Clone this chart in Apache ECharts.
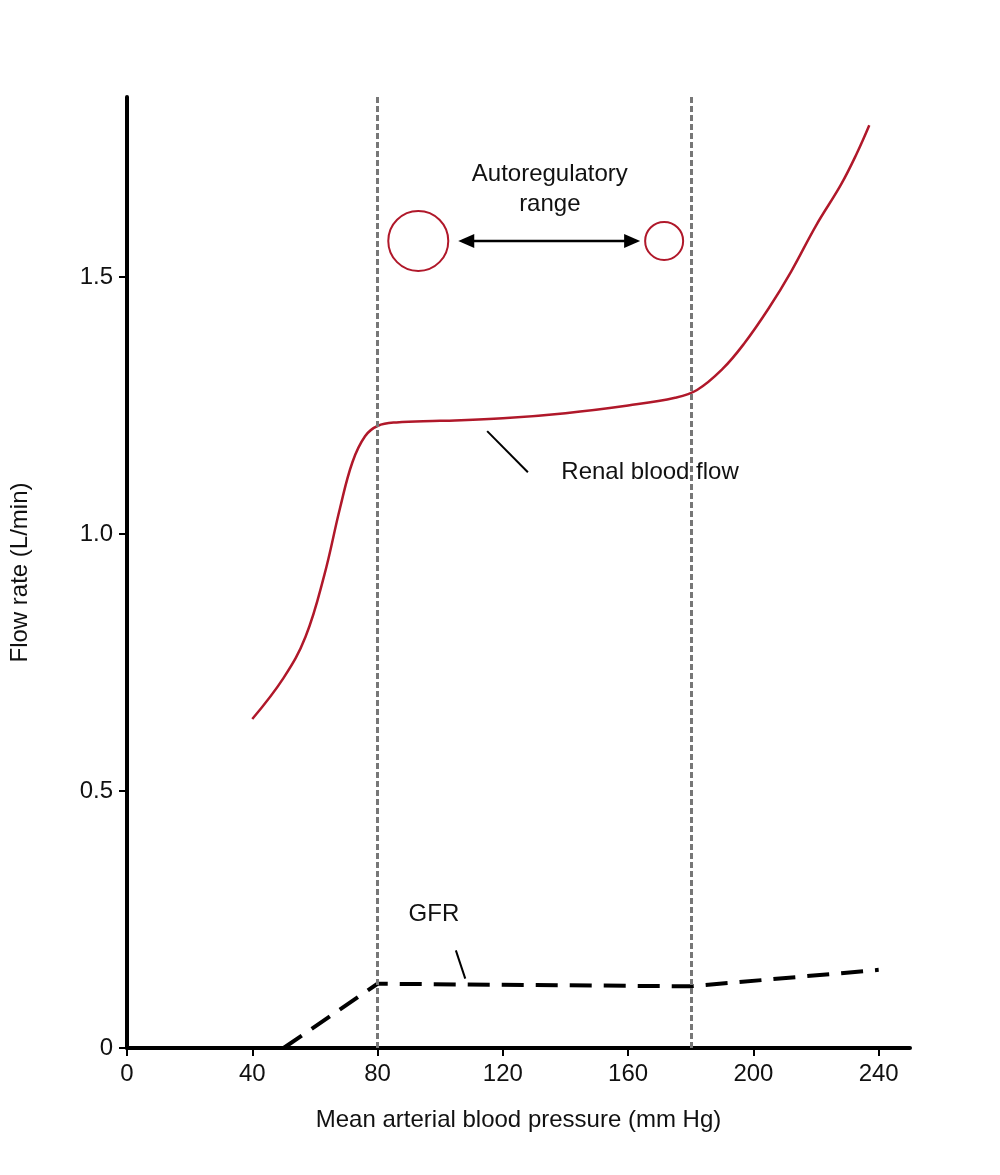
<!DOCTYPE html>
<html><head><meta charset="utf-8">
<script src="https://cdn.jsdelivr.net/npm/echarts@6/dist/echarts.min.js"></script>
<style>html,body{margin:0;background:#fff}#c{width:1000px;height:1175px}</style>
</head><body><div id="c"></div>
<script>
const renalFlow = [[40,0.64],[50,0.72],[57,0.80],[63,0.92],[68,1.05],[72,1.14],[76,1.19],[80,1.21],[86,1.217],[100,1.22],[120,1.225],[140,1.235],[160,1.25],[175,1.265],[182,1.28],[190,1.32],[197,1.37],[205,1.44],[212,1.51],[220,1.6],[228,1.68],[233,1.74],[237,1.795]];
const gfr = [[50,0],[80,0.125],[180,0.12],[240,0.152]];
const boundaries = [80,180];
const xTicks = [0,40,80,120,160,200,240];
const yTicks = [0,0.5,1.0,1.5];
const F = 'Liberation Sans, Arial, sans-serif';
const chart = echarts.init(document.getElementById('c'));
chart.setOption({
  animation:false,
  grid:{left:125,right:90,top:97,bottom:127},
  xAxis:{type:'value',min:0,max:250,interval:40,
    axisLine:{lineStyle:{color:'#000',width:4}},
    axisTick:{show:true,length:8,lineStyle:{color:'#000',width:2}},
    splitLine:{show:false},
    axisLabel:{fontFamily:F,fontSize:24,color:'#111',margin:14,showMaxLabel:false,formatter:v=>xTicks.includes(v)?String(v):''},
    name:'Mean arterial blood pressure (mm Hg)',nameLocation:'middle',nameGap:60,
    nameTextStyle:{fontFamily:F,fontSize:24,color:'#111'}},
  yAxis:{type:'value',min:0,max:1.85,interval:0.5,
    axisLine:{show:true,lineStyle:{color:'#000',width:4}},
    axisTick:{show:true,length:8,lineStyle:{color:'#000',width:2}},
    splitLine:{show:false},
    axisLabel:{fontFamily:F,fontSize:24,color:'#111',margin:14,showMaxLabel:false,formatter:v=>yTicks.includes(v)?(v===0?'0':v.toFixed(1)):''},
    name:'Flow rate (L/min)',nameLocation:'middle',nameGap:95,nameRotate:90,
    nameTextStyle:{fontFamily:F,fontSize:24,color:'#111'}},
  series:[
    {type:'line',data:renalFlow,smooth:0.4,showSymbol:false,lineStyle:{color:'#b0182a',width:2.5},
     markLine:{silent:true,symbol:'none',label:{show:false},
       lineStyle:{color:'#777',type:[6,3],width:3},
       data:boundaries.map(b=>[{coord:[b,0]},{coord:[b,1.85]}])}},
    {type:'line',data:gfr,showSymbol:false,lineStyle:{color:'#000',width:4,type:[22,12]}}
  ]
});
function P(x,y){return chart.convertToPixel({gridIndex:0},[x,y]);}
const c1=P(93,1.57), c2=P(171.5,1.57), tx=P(135,1.67), rl=P(167,1.12), gl=P(98,0.26);
const l1a=P(115,1.2), l1b=P(128,1.12), g1a=P(105,0.19), g1b=P(108,0.135);
chart.setOption({graphic:[
  {type:'circle',shape:{cx:c1[0],cy:c1[1],r:30},style:{fill:'none',stroke:'#b0182a',lineWidth:2}},
  {type:'circle',shape:{cx:c2[0],cy:c2[1],r:19},style:{fill:'none',stroke:'#b0182a',lineWidth:2}},
  {type:'line',shape:{x1:c1[0]+44,y1:c1[1],x2:c2[0]-28,y2:c2[1]},style:{stroke:'#000',lineWidth:2.5}},
  {type:'polygon',shape:{points:[[c1[0]+40,c1[1]],[c1[0]+56,c1[1]-7],[c1[0]+56,c1[1]+7]]},style:{fill:'#000'}},
  {type:'polygon',shape:{points:[[c2[0]-24,c2[1]],[c2[0]-40,c2[1]-7],[c2[0]-40,c2[1]+7]]},style:{fill:'#000'}},
  {type:'text',x:tx[0],y:tx[1],style:{text:'Autoregulatory\nrange',font:'24px '+F,fill:'#111',align:'center',verticalAlign:'middle',lineHeight:30}},
  {type:'text',x:rl[0],y:rl[1],style:{text:'Renal blood flow',font:'24px '+F,fill:'#111',align:'center',verticalAlign:'middle'}},
  {type:'line',shape:{x1:l1a[0],y1:l1a[1],x2:l1b[0],y2:l1b[1]},style:{stroke:'#000',lineWidth:2}},
  {type:'text',x:gl[0],y:gl[1],style:{text:'GFR',font:'24px '+F,fill:'#111',align:'center',verticalAlign:'middle'}},
  {type:'line',shape:{x1:g1a[0],y1:g1a[1],x2:g1b[0],y2:g1b[1]},style:{stroke:'#000',lineWidth:2}}
]});
</script></body></html>
